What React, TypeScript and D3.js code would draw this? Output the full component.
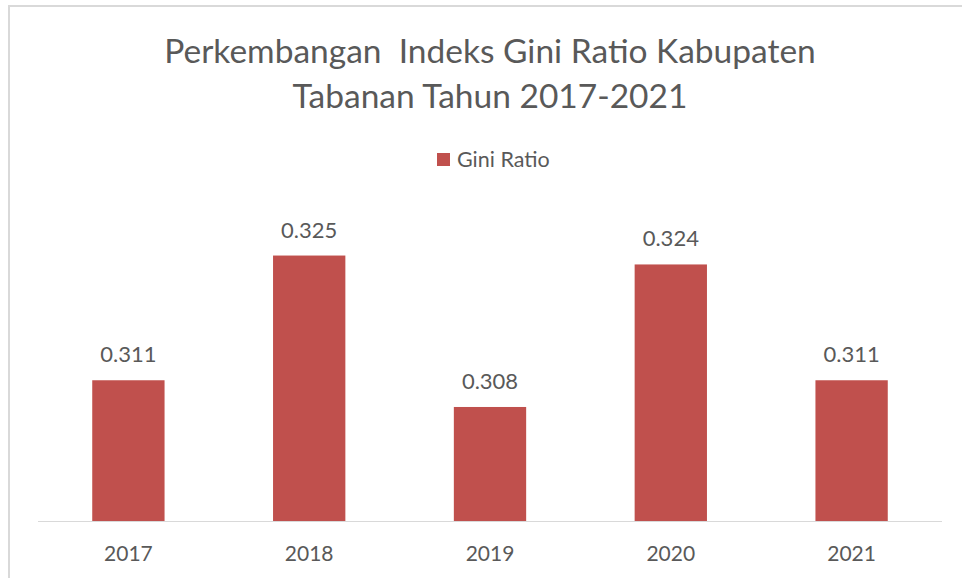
import React, { useEffect, useRef } from "react";
import * as d3 from "d3";

const years = ["2017", "2018", "2019", "2020", "2021"];
const giniValues = [0.311, 0.325, 0.308, 0.324, 0.311];
const seriesName = "Gini Ratio";
const titleLines = ["Perkembangan  Indeks Gini Ratio Kabupaten", "Tabanan Tahun 2017-2021"];
// axis is hidden in the picture, bounds estimated from bar heights
const yMin = 0.2952;
const yMax = 0.33;

const App: React.FC = () => {
  const svgRef = useRef<SVGSVGElement>(null);

  useEffect(() => {
    if (!svgRef.current) return;
    const svg = d3.select(svgRef.current);
    svg.selectAll("*").remove();

    const width = 962;
    const height = 578;
    const font = "Lato, 'Noto Sans', sans-serif";
    const textColor = "#595959";
    const barColor = "#C0504D";

    svg.attr("width", width).attr("height", height);

    svg.append("rect").attr("width", width).attr("height", height).attr("fill", "#fff");

    // chart frame (cut off at right and bottom)
    svg
      .append("rect")
      .attr("x", 9)
      .attr("y", 6)
      .attr("width", width + 20)
      .attr("height", height + 20)
      .attr("fill", "none")
      .attr("stroke", "#d9d9d9")
      .attr("stroke-width", 2);

    const plot = { left: 38, right: 942, top: 211, bottom: 521 };

    const x = d3
      .scaleBand<string>()
      .domain(years)
      .range([plot.left, plot.right])
      .paddingInner(0.6)
      .paddingOuter(0.3);

    const y = d3.scaleLinear().domain([yMin, yMax]).range([plot.bottom, plot.top]);

    // Title
    const title = svg
      .append("text")
      .attr("text-anchor", "middle")
      .style("font-family", font)
      .style("font-size", "33.5px")
      .style("fill", textColor)
      .style("white-space", "pre");
    titleLines.forEach((line, i) => {
      title
        .append("tspan")
        .attr("x", 490)
        .attr("y", 63 + i * 44.5)
        .text(line);
    });

    // Legend
    const legend = svg.append("g").attr("transform", "translate(437, 153)");
    legend.append("rect").attr("width", 13).attr("height", 13).attr("fill", barColor);
    legend
      .append("text")
      .attr("x", 20)
      .attr("y", 14)
      .style("font-family", font)
      .style("font-size", "21.5px")
      .style("fill", textColor)
      .text(seriesName);

    // Bars
    svg
      .append("g")
      .selectAll("rect")
      .data(giniValues)
      .join("rect")
      .attr("x", (_, i) => x(years[i]) as number)
      .attr("y", (d) => y(d))
      .attr("width", x.bandwidth())
      .attr("height", (d) => plot.bottom - y(d))
      .attr("fill", barColor);

    // Value labels
    svg
      .append("g")
      .selectAll("text")
      .data(giniValues)
      .join("text")
      .attr("x", (_, i) => (x(years[i]) as number) + x.bandwidth() / 2)
      .attr("y", (d) => y(d) - 18)
      .attr("text-anchor", "middle")
      .style("font-family", font)
      .style("font-size", "22px")
      .style("fill", textColor)
      .text((d) => d3.format(".3f")(d));

    // Baseline
    svg
      .append("line")
      .attr("x1", plot.left)
      .attr("x2", plot.right)
      .attr("y1", plot.bottom + 0.5)
      .attr("y2", plot.bottom + 0.5)
      .attr("stroke", "#d9d9d9")
      .attr("stroke-width", 1);

    // Category labels
    svg
      .append("g")
      .selectAll("text")
      .data(years)
      .join("text")
      .attr("x", (d) => (x(d) as number) + x.bandwidth() / 2)
      .attr("y", 561)
      .attr("text-anchor", "middle")
      .style("font-family", font)
      .style("font-size", "21px")
      .style("fill", textColor)
      .text((d) => d);
  }, []);

  return (
    <div style={{ position: "absolute", left: 0, top: 0 }}>
      <svg ref={svgRef} style={{ display: "block" }}></svg>
    </div>
  );
};

export default App;
